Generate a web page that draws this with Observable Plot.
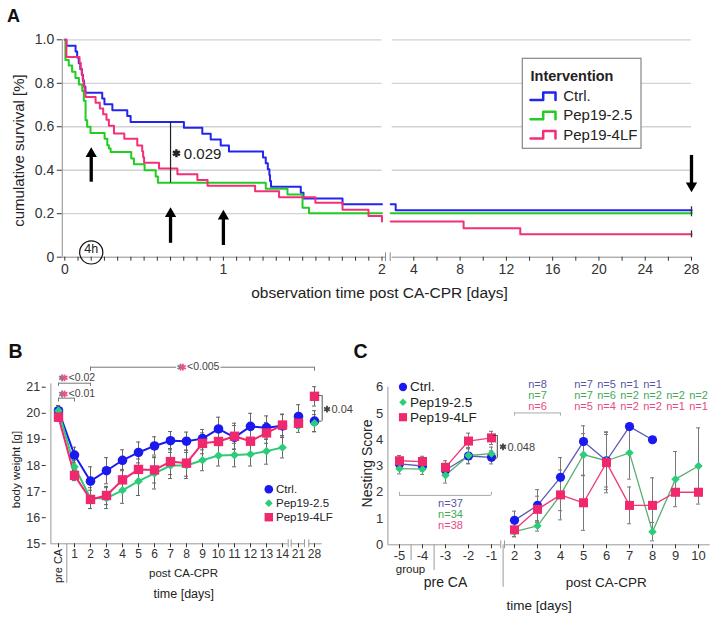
<!DOCTYPE html>
<html>
<head>
<meta charset="utf-8">
<script src="https://cdn.jsdelivr.net/npm/d3@7"></script>
<script src="https://cdn.jsdelivr.net/npm/@observablehq/plot@0.6"></script>
<style>
  html, body { margin: 0; padding: 0; background: #fff; }
  #wrap { position: relative; width: 719px; height: 619px; overflow: hidden; background: #fff; }
</style>
</head>
<body>
<div id="wrap"></div>
<script>
// ================= DATA =================
const groups = ["Ctrl.", "Pep19-2.5", "Pep19-4LF"];

// ---- Panel A: cumulative survival (step curves), first 2 days ----
const ctrlTime = [0,0.01,0.068,0.078,0.088,0.098,0.108,0.115,0.122,0.13,0.236,0.25,0.3,0.394,0.415,0.751,0.867,0.92,0.983,1.035,1.25,1.267,1.28,1.29,1.294,1.3,1.488,1.505,1.751,2];
const ctrlSurv = [1,0.973,0.946,0.919,0.892,0.865,0.838,0.811,0.784,0.757,0.73,0.703,0.676,0.649,0.622,0.595,0.568,0.541,0.514,0.486,0.459,0.432,0.405,0.378,0.351,0.324,0.297,0.27,0.243,0.243];
const greenTime = [0,0.004,0.025,0.046,0.067,0.089,0.11,0.12,0.131,0.141,0.162,0.251,0.268,0.278,0.289,0.419,0.436,0.503,0.573,0.587,1.267,1.404,1.499,1.54,2];
const greenSurv = [1,0.907,0.882,0.853,0.824,0.794,0.765,0.72,0.63,0.6,0.571,0.545,0.515,0.5,0.484,0.454,0.427,0.4,0.371,0.342,0.315,0.288,0.227,0.202,0.202];
const pinkTime = [0,0.01,0.093,0.1,0.107,0.113,0.119,0.125,0.131,0.194,0.221,0.242,0.263,0.278,0.31,0.375,0.457,0.488,0.494,0.5,0.594,0.71,0.836,0.9,1.2,1.351,1.58,1.751,1.915,2,2];
const pinkSurv = [1,0.921,0.895,0.868,0.842,0.816,0.789,0.763,0.737,0.711,0.684,0.658,0.632,0.605,0.569,0.545,0.514,0.487,0.46,0.434,0.408,0.382,0.355,0.329,0.303,0.276,0.25,0.218,0.19,0.19,0.164];
// days 2..28
const ctrlLateTime = [2, 2.43, 28];
const ctrlLateSurv = [0.243, 0.216, 0.216];
const greenLateTime = [2, 28];
const greenLateSurv = [0.202, 0.202];
const pinkLateTime = [2, 8.3, 13.2, 28];
const pinkLateSurv = [0.164, 0.133, 0.105, 0.105];
const aYTicks = [0, 0.2, 0.4, 0.6, 0.8, 1.0];
const aGrid = [0.2, 0.4, 0.6, 0.8, 1.0];
const aEarlyTicks = d3.range(0, 25).map(i => i / 12);   // every 2 h
const aLateTicks = d3.range(4, 29, 2);
// arrows (treatment times) and significance
const aArrowTime = [4 / 24, 16 / 24, 1];
const aArrowBase = [0.345, 0.064, 0.054];
const aArrowTip = [0.506, 0.23, 0.218];
const aEndArrow = {t: 28, base: 0.468, tip: 0.299};
const aSig = {t: 16 / 24, low: 0.342, high: 0.622, label: "0.029"};

// ---- Panel B: body weight ----
const bDays = ["pre CA","1","2","3","4","5","6","7","8","9","10","11","12","13","14","21","28"];
const bCtrl     = [20.1,18.4,17.4,17.8,18.2,18.5,18.75,18.95,18.93,19.03,19.4,19.08,19.5,19.45,19.52,19.88,19.7];
const bCtrlErr  = [0.2,0.3,0.55,0.5,0.4,0.4,0.35,0.35,0.35,0.35,0.45,0.45,0.5,0.45,0.45,0.45,0.4];
const bGreen    = [20.1,17.95,16.75,16.75,17.05,17.4,17.7,18.0,18.0,18.2,18.38,18.4,18.43,18.55,18.69,19.52,19.62];
const bGreenErr = [0.2,0.25,0.4,0.4,0.5,0.55,0.6,0.5,0.5,0.4,0.4,0.45,0.45,0.5,0.4,0.25,0.33];
const bPink     = [19.85,17.62,16.7,16.85,17.45,17.85,17.83,18.15,18.09,18.85,18.92,19.12,18.93,19.25,19.55,19.62,20.65];
const bPinkErr  = [0.15,0.2,0.35,0.35,0.4,0.4,0.5,0.5,0.5,0.4,0.5,0.5,0.5,0.4,0.4,0.2,0.37];

// ---- Panel C: nesting score ----
const cDays = ["-5","-4","-3","-2","-1","2","3","4","5","6","7","8","9","10"];
const cCtrl     = [3.08,3.0,2.85,3.38,3.33,0.93,1.5,2.57,3.93,3.2,4.5,4.0,null,null];
const cCtrlErr  = [0.2,0.2,0.25,0.3,0.25,0.35,0.6,0.75,0.6,1.1,null,null,null,null];
const cGreen    = [2.9,2.88,2.65,3.4,3.47,0.5,0.72,1.9,3.43,3.2,3.5,0.5,2.5,3.0];
const cGreenErr = [0.2,0.2,0.3,0.3,0.25,0.2,0.2,0.95,0.8,1.0,1.0,0.35,1.05,1.45];
const cPink     = [3.2,3.17,2.95,3.95,4.07,0.57,1.35,1.9,1.6,3.13,1.5,1.5,2.0,2.0];
const cPinkErr  = [0.2,0.2,0.25,0.3,0.25,0.25,0.5,0.6,1.05,1.15,0.7,1.05,null,null];
const cPreN = ["n=37", "n=34", "n=38"];
const cNDays  = ["3","5","6","7","8","9","10"];
const cNCtrl  = ["n=8","n=7","n=5","n=1","n=1","",""];
const cNGreen = ["n=7","n=7","n=6","n=2","n=2","n=2","n=2"];
const cNPink  = ["n=6","n=5","n=4","n=2","n=2","n=1","n=1"];

// ================= LAYOUT / STYLE =================
const W = 719, H = 619;
const FONT = "'Liberation Sans', Arial, Helvetica, 'DejaVu Sans', sans-serif";
const TXT = "#222";
const baseStyle = {background: "none", overflow: "visible", fontFamily: FONT, fontSize: "12px", color: TXT};
const aColors = ["#2424f0", "#22cc22", "#f2307a"];
const bColors = ["#1a1af0", "#2ccc78", "#f0286e"];
const cLine = ["#5a5ab4", "#5aae72", "#ec3a7c"];
const cText = ["#5656a6", "#44aa55", "#e64a86"];
const symbols = ["circle", "diamond2", "square"];
const STAR_GRAY = "#7a7a8c", STAR_PINK = "#f0508a";
const wrap = document.getElementById("wrap");
function mount(el) { el.style.position = "absolute"; el.style.left = "0px"; el.style.top = "0px"; wrap.appendChild(el); }
const star = (data, o) => Plot.dot(data, {symbol: "asterisk", r: 3.2, strokeWidth: 1.8, fill: "none", ...o});

// ================= ROWS =================
const rowsOf = (ts, ss, g) => ts.map((t, i) => ({group: g, t, s: ss[i]}));
const aEarly = [...rowsOf(ctrlTime, ctrlSurv, groups[0]), ...rowsOf(greenTime, greenSurv, groups[1]), ...rowsOf(pinkTime, pinkSurv, groups[2])];
const aLate = [...rowsOf(ctrlLateTime, ctrlLateSurv, groups[0]), ...rowsOf(greenLateTime, greenLateSurv, groups[1]), ...rowsOf(pinkLateTime, pinkLateSurv, groups[2])];
const aLast = groups.map(g => aLate.filter(d => d.group === g).slice(-1)[0]);
const aArrows = aArrowTime.map((t, i) => ({t, base: aArrowBase[i], tip: aArrowTip[i]}));

const bRowsFor = (g, v, e) => bDays.map((day, i) => ({group: g, day, v: v[i], e: e[i], linked: i <= 14}));
const bRows = [...bRowsFor(groups[0], bCtrl, bCtrlErr), ...bRowsFor(groups[1], bGreen, bGreenErr), ...bRowsFor(groups[2], bPink, bPinkErr)];

const cRowsFor = (g, v, e) => cDays.map((day, i) => ({group: g, day, v: v[i], e: e[i], seg: i < 2 ? "a" : i < 5 ? "b" : "c"})).filter(d => d.v != null);
const cRows = [...cRowsFor(groups[0], cCtrl, cCtrlErr), ...cRowsFor(groups[1], cGreen, cGreenErr), ...cRowsFor(groups[2], cPink, cPinkErr)];
const cErr = cRows.filter(d => d.e != null);

// ================= PANEL A (left: 0–2 days) =================
const AX = "#8c8c8c";
const aMargins = {marginTop: 39.3, marginBottom: H - 256.7};
mount(Plot.plot({
  width: W, height: H, ...aMargins, marginLeft: 64.3, marginRight: W - 381.5,
  x: {domain: [0, 2], axis: null}, y: {domain: [0, 1], axis: null},
  color: {domain: groups, range: aColors},
  style: baseStyle,
  marks: [
    Plot.ruleY(aGrid, {stroke: "#d2d2d2", strokeWidth: 1.3, insetLeft: -2}),
    Plot.ruleY([0], {stroke: AX, insetLeft: -2.3, insetRight: -3.5}),
    Plot.ruleX([2], {y1: -0.02, y2: 0.02, dx: 3.5, stroke: AX}),
    Plot.ruleX([0], {y1: 0, y2: 1, dx: -2.5, stroke: AX}),
    Plot.axisY({ticks: aYTicks, tickFormat: d => d === 0 ? "0" : d.toFixed(1), tickSize: 5, tickPadding: 3, dx: -2.5, fontSize: 14, label: null, color: "#333"}),
    Plot.axisX({ticks: aEarlyTicks, tickFormat: d => Number.isInteger(d) ? String(d) : "", tickSize: 4, tickPadding: 3, fontSize: 14, label: null, color: "#333"}),
    Plot.line(aEarly, {x: "t", y: "s", z: "group", stroke: "group", curve: "step-after", strokeWidth: 2}),
    Plot.ruleX([aSig], {x: "t", y1: "low", y2: "high", stroke: "#222", strokeWidth: 1.2}),
    star([aSig], {x: d => d.t + 0.037, y: 0.478, r: 3.8, strokeWidth: 2.4, stroke: "#222"}),
    Plot.text([aSig.label], {x: aSig.t + 0.084, y: 0.476, textAnchor: "start", fontSize: 15, fill: TXT}),
    Plot.ruleX(aArrows, {x: "t", y1: "base", y2: d => d.tip - 0.025, stroke: "#000", strokeWidth: 3.3}),
    Plot.dot(aArrows, {x: "t", y: "tip", symbol: "triangle", r: 4.2, fill: "#000", dy: 6.5}),
    Plot.dot([4 / 24], {x: d => d, y: 0.022, r: 11.6, stroke: "#111", fill: "none", strokeWidth: 1.2}),
    Plot.text(["4h"], {x: 4 / 24, y: 0.039, fontSize: 12.5, fill: TXT})
  ]
}));

// ================= PANEL A (right: 2–28 days) =================
mount(Plot.plot({
  width: W, height: H, ...aMargins, marginLeft: 390.2, marginRight: W - 691,
  x: {domain: [2, 28], axis: null}, y: {domain: [0, 1], axis: null},
  color: {domain: groups, range: aColors},
  style: baseStyle,
  marks: [
    Plot.ruleY(aGrid, {stroke: "#d2d2d2", strokeWidth: 1.3, insetLeft: 1.5}),
    Plot.ruleY([0], {stroke: AX, insetLeft: 1.5}),
    Plot.ruleX([2], {y1: -0.02, y2: 0.02, dx: -0.5, stroke: AX}),
    Plot.axisX({ticks: aLateTicks, tickFormat: d => d % 4 === 0 ? String(d) : "", tickSize: 4, tickPadding: 3, fontSize: 14, label: null, color: "#333"}),
    Plot.line(aLate, {x: "t", y: "s", z: "group", stroke: "group", curve: "step-after", strokeWidth: 2}),
    Plot.ruleX(aLast, {x: "t", y1: "s", y2: "s", insetTop: -3.5, insetBottom: -3.5, stroke: "#333", strokeWidth: 1.3}),
    Plot.ruleX([aEndArrow], {x: "t", y1: "base", y2: d => d.tip + 0.025, stroke: "#000", strokeWidth: 3.3}),
    Plot.dot([aEndArrow], {x: "t", y: "tip", symbol: "triangle", r: 4.2, fill: "#000", rotate: 180, dy: -6.5})
  ]
}));

// ================= PANEL B =================
const BAX = "#9a9a9a";
const bDotR = [4.8, 3.9, 5.3];
mount(Plot.plot({
  width: W, height: H, marginLeft: 53.3, marginRight: W - 319, marginTop: 386.7, marginBottom: H - 543.3,
  x: {type: "point", domain: bDays, padding: 0, axis: null},
  y: {domain: [15, 21], axis: null},
  color: {domain: groups, range: bColors},
  style: baseStyle,
  marks: [
    Plot.ruleX(["pre CA"], {y1: 15, y2: 21.13, dx: -7.6, stroke: BAX}),
    Plot.axisY({ticks: d3.range(15, 22), tickFormat: d => String(d), tickSize: 4, tickPadding: 2, dx: -7.6, fontSize: 12.5, label: null, color: "#333"}),
    Plot.ruleY([15], {x1: () => "pre CA", x2: () => "14", insetLeft: -7.6, insetRight: -5.7, stroke: BAX}),
    Plot.ruleY([15], {x1: () => "21", x2: () => "21", insetLeft: -7.3, insetRight: -6, stroke: BAX}),
    Plot.ruleY([15], {x1: () => "28", x2: () => "28", insetLeft: -5.7, insetRight: -7.7, stroke: BAX}),
    Plot.ruleX(["14"], {y1: 14.85, y2: 15.15, dx: 5.7, stroke: BAX}),
    Plot.ruleX(["21"], {y1: 14.85, y2: 15.15, dx: -7.3, stroke: BAX}),
    Plot.ruleX(["21"], {y1: 14.85, y2: 15.15, dx: 6, stroke: BAX}),
    Plot.ruleX(["28"], {y1: 14.85, y2: 15.15, dx: -5.7, stroke: BAX}),
    Plot.axisX({ticks: bDays, tickFormat: d => d === "pre CA" ? "" : d, tickSize: 4, tickPadding: 2, fontSize: 12, label: null, color: "#333"}),
    Plot.text(["pre CA"], {x: d => d, y: 15, dy: 5, rotate: -90, textAnchor: "end", fontSize: 11, fill: TXT}),
    Plot.ruleX(["pre CA"], {y1: 15, y2: 13.48, dx: 8.3, stroke: BAX}),
    // data
    Plot.line(bRows.filter(d => d.linked), {x: "day", y: "v", z: "group", stroke: "group", strokeWidth: 2}),
    Plot.ruleX(bRows, {x: "day", y1: d => d.v - d.e, y2: d => d.v + d.e, stroke: "#666", strokeWidth: 1}),
    Plot.ruleY(bRows, {x1: "day", x2: "day", y: d => d.v + d.e, insetLeft: -2, insetRight: -2, stroke: "#666"}),
    Plot.ruleY(bRows, {x1: "day", x2: "day", y: d => d.v - d.e, insetLeft: -2, insetRight: -2, stroke: "#666"}),
    ...groups.map((g, i) => Plot.dot(bRows.filter(d => d.group === g), {x: "day", y: "v", symbol: symbols[i], r: bDotR[i], fill: bColors[i], stroke: "none"})),
    // significance brackets
    Plot.ruleY([21.766], {x1: () => "2", x2: () => "28", stroke: "#777"}),
    Plot.ruleX(["2", "28"], {y1: 21.61, y2: 21.766, stroke: "#777"}),
    Plot.dot(["8"], {x: d => d, y: 21.766, dx: -4.8, r: 5.5, fill: "white"}),
    star(["8"], {x: d => d, y: 21.766, dx: -6, stroke: STAR_GRAY}),
    star(["8"], {x: d => d, y: 21.766, dx: -3.6, stroke: STAR_PINK}),
    Plot.text(["<0.005"], {x: () => "8", y: 21.77, dx: 0.5, textAnchor: "start", fontSize: 10.5, fill: "#444", stroke: "white", strokeWidth: 3, paintOrder: "stroke"}),
    Plot.ruleY([21.153], {x1: () => "pre CA", x2: () => "2", stroke: "#777"}),
    Plot.ruleX(["pre CA", "2"], {y1: 21.03, y2: 21.153, stroke: "#777"}),
    Plot.ruleY([20.58], {x1: () => "pre CA", x2: () => "1", stroke: "#777"}),
    Plot.ruleX(["pre CA", "1"], {y1: 20.43, y2: 20.58, stroke: "#777"}),
    star([21.36, 20.74], {x: () => "pre CA", y: d => d, dx: 3.6, stroke: STAR_GRAY}),
    star([21.36, 20.74], {x: () => "pre CA", y: d => d, dx: 6, stroke: STAR_PINK}),
    Plot.text(["<0.02"], {x: () => "pre CA", y: 21.36, dx: 10, textAnchor: "start", fontSize: 10.5, fill: "#444"}),
    Plot.text(["<0.01"], {x: () => "pre CA", y: 20.74, dx: 10, textAnchor: "start", fontSize: 10.5, fill: "#444"}),
    Plot.ruleX(["28"], {y1: 19.7, y2: 20.68, dx: 7.7, stroke: "#555"}),
    Plot.ruleY([19.7, 20.68], {x1: () => "28", x2: () => "28", insetLeft: 3.7, insetRight: -7.7, stroke: "#555"}),
    star(["28"], {x: d => d, y: 20.16, dx: 12.5, stroke: "#444"}),
    Plot.text(["0.04"], {x: () => "28", y: 20.15, dx: 17, textAnchor: "start", fontSize: 11, fill: "#444"})
  ]
}));

// ================= PANEL C =================
const CAX = "#9a9a9a";
const cDotR = [4.6, 3.8, 5.1];
const cNLevels = [6.1, 5.67, 5.26];
const cPreLevels = [1.57, 1.15, 0.73];
const cNLabels = [cNCtrl, cNGreen, cNPink];
mount(Plot.plot({
  width: W, height: H, marginLeft: 398.3, marginRight: W - 699.3, marginTop: 386.7, marginBottom: H - 544.3,
  x: {type: "point", domain: cDays, padding: 0, axis: null},
  y: {domain: [0, 6], axis: null},
  color: {domain: groups, range: cLine},
  style: baseStyle,
  marks: [
    Plot.ruleX(["-5"], {y1: 0, y2: 6, dx: -11.6, stroke: CAX}),
    Plot.axisY({ticks: d3.range(0, 7), tickFormat: d => String(d), tickSize: 0, tickPadding: 4, dx: -11.6, fontSize: 13, label: null, color: "#333"}),
    Plot.ruleY([0], {x1: () => "-5", x2: () => "-1", insetLeft: -11.6, insetRight: -9.2, stroke: CAX}),
    Plot.ruleY([0], {x1: () => "2", x2: () => "10", insetLeft: -10, insetRight: -11.7, stroke: CAX}),
    Plot.ruleX(["-1"], {y1: -0.15, y2: 0.15, dx: 9.2, stroke: CAX}),
    Plot.ruleX(["2"], {y1: -0.15, y2: 0.15, dx: -10, stroke: CAX}),
    Plot.axisX({ticks: cDays, tickSize: 4, tickPadding: 2, fontSize: 13, label: null, color: "#333"}),
    Plot.ruleX(["-5"], {y1: 0, y2: -0.6, dx: 11.6, stroke: CAX}),
    Plot.ruleX(["-4"], {y1: 0, y2: -0.98, dx: 11.6, stroke: CAX}),
    Plot.ruleX(["-1"], {y1: 0, y2: -1.62, dx: 11.6, stroke: CAX}),
    // data
    Plot.line(cRows, {x: "day", y: "v", z: d => d.group + d.seg, stroke: "group", strokeWidth: 1.3}),
    Plot.ruleX(cErr, {x: "day", y1: d => d.v - d.e, y2: d => d.v + d.e, stroke: "#777", strokeWidth: 1}),
    Plot.ruleY(cErr, {x1: "day", x2: "day", y: d => d.v + d.e, insetLeft: -2, insetRight: -2, stroke: "#777"}),
    Plot.ruleY(cErr, {x1: "day", x2: "day", y: d => d.v - d.e, insetLeft: -2, insetRight: -2, stroke: "#777"}),
    ...groups.map((g, i) => Plot.dot(cRows.filter(d => d.group === g), {x: "day", y: "v", symbol: symbols[i], r: cDotR[i], fill: bColors[i], stroke: "none"})),
    // brackets and n
    Plot.ruleY([1.88], {x1: () => "-5", x2: () => "-1", stroke: "#aaa"}),
    Plot.ruleX(["-5", "-1"], {y1: 1.88, y2: 2.0, stroke: "#aaa"}),
    ...groups.map((g, i) => Plot.text([cPreN[i]], {x: () => "-3", y: cPreLevels[i], dx: 5, fontSize: 11, fill: cText[i]})),
    Plot.ruleY([5.02], {x1: () => "2", x2: () => "4", stroke: "#aaa"}),
    Plot.ruleX(["2", "4"], {y1: 4.9, y2: 5.02, stroke: "#aaa"}),
    ...groups.map((g, i) => Plot.text(cNDays.map((d, j) => ({day: d, t: cNLabels[i][j]})).filter(d => d.t), {x: "day", y: cNLevels[i], text: "t", fontSize: 11, fill: cText[i]})),
    Plot.ruleX(["-1"], {y1: 3.3, y2: 4.16, dx: 5.8, stroke: "#444"}),
    Plot.ruleY([3.3, 4.16], {x1: () => "-1", x2: () => "-1", insetLeft: 1.8, insetRight: -5.8, stroke: "#444"}),
    star(["-1"], {x: d => d, y: 3.73, dx: 11.5, stroke: "#444"}),
    Plot.text(["0.048"], {x: () => "-1", y: 3.72, dx: 16, textAnchor: "start", fontSize: 11, fill: "#444"})
  ]
}));

// ================= OVERLAY: panel letters, titles, legends =================
const legA = [95.7, 115, 134.3];
const legB = [488.8, 502.7, 516.7];
const legC = [386.5, 401.7, 416.7];
const stepIcon = yc => [[530, yc + 3.7], [542.7, yc + 3.7], [542.7, yc - 3.7], [555, yc - 3.7], [555, yc + 3.7]];
mount(Plot.plot({
  width: W, height: H, margin: 0,
  x: {domain: [0, W], range: [0, W], axis: null},
  y: {domain: [0, H], range: [0, H], axis: null},
  style: baseStyle,
  marks: [
    Plot.text(["A"], {x: 6.5, y: 16, textAnchor: "start", fontWeight: "bold", fontSize: 18, fill: "#111"}),
    Plot.text(["B"], {x: 8, y: 350.8, textAnchor: "start", fontWeight: "bold", fontSize: 19.5, fill: "#111"}),
    Plot.text(["C"], {x: 353, y: 350.8, textAnchor: "start", fontWeight: "bold", fontSize: 19.5, fill: "#111"}),
    // A titles
    Plot.text(["cumulative survival [%]"], {x: 19, y: 150, rotate: -90, fontSize: 15, fill: TXT}),
    Plot.text(["observation time post CA-CPR [days]"], {x: 379, y: 293, fontSize: 15.5, fill: TXT}),
    // A legend
    Plot.rect([0], {x1: 522.3, x2: 641, y1: 58.3, y2: 148.3, fill: "white", stroke: "#858585", strokeWidth: 1.2}),
    Plot.text(["Intervention"], {x: 530, y: 75.5, textAnchor: "start", fontWeight: "bold", fontSize: 14.5, fill: TXT}),
    ...groups.map((g, i) => Plot.line(stepIcon(legA[i]), {stroke: aColors[i], strokeWidth: 2.5})),
    ...groups.map((g, i) => Plot.text([g], {x: 562.7, y: legA[i], textAnchor: "start", fontSize: 15, fill: TXT})),
    // B titles + legend
    Plot.text(["body weight [g]"], {x: 16, y: 469, rotate: -90, fontSize: 11.5, fill: TXT}),
    Plot.text(["post CA-CPR"], {x: 183, y: 573.3, fontSize: 11.5, fill: TXT}),
    Plot.text(["time [days]"], {x: 183.3, y: 593.3, fontSize: 12.5, fill: TXT}),
    ...groups.map((g, i) => Plot.dot([0], {x: 268.3, y: legB[i], symbol: symbols[i], r: bDotR[i] * 0.9, fill: bColors[i]})),
    ...groups.map((g, i) => Plot.text([g], {x: 275.5, y: legB[i], textAnchor: "start", fontSize: 11.5, fill: TXT})),
    // C titles + legend
    Plot.text(["Nesting Score"], {x: 367, y: 463, rotate: -90, fontSize: 14, fill: TXT}),
    Plot.text(["group"], {x: 410, y: 569, fontSize: 11.5, fill: TXT}),
    Plot.text(["pre CA"], {x: 445, y: 582, fontSize: 14, fill: TXT}),
    Plot.text(["post CA-CPR"], {x: 605.8, y: 582, fontSize: 13.5, fill: TXT}),
    Plot.text(["time [days]"], {x: 538.7, y: 605, fontSize: 13.5, fill: TXT}),
    ...groups.map((g, i) => Plot.dot([0], {x: 402.5, y: legC[i], symbol: symbols[i], r: cDotR[i] * 0.9, fill: bColors[i]})),
    ...groups.map((g, i) => Plot.text([g], {x: 409.5, y: legC[i], textAnchor: "start", fontSize: 13.5, fill: TXT}))
  ]
}));
</script>
</body>
</html>
